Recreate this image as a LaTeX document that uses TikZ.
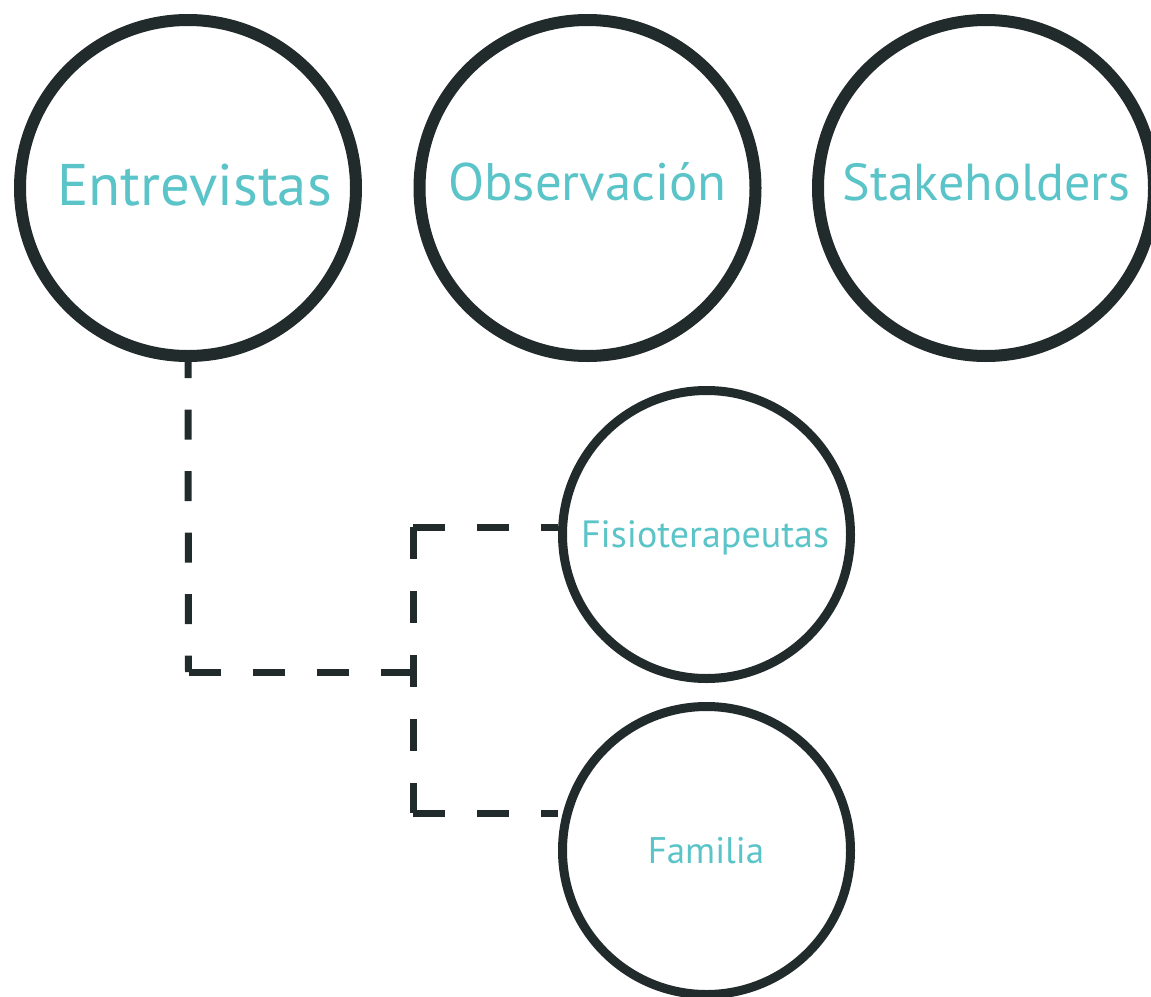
\documentclass[tikz,border=0pt]{standalone}
\usepackage{fontspec}
\setmainfont{PT Sans}
\definecolor{ink}{RGB}{34,43,43}
\definecolor{teal}{RGB}{91,196,200}
\tikzset{
  bigcircle/.style={circle, draw=ink, line width=12pt, minimum size=336pt, inner sep=0pt},
  smallcircle/.style={circle, draw=ink, line width=9pt, minimum size=288pt, inner sep=0pt},
  label/.style={text=teal, anchor=base, inner sep=0pt, font=\fontsize{#1}{#1}\selectfont},
  link/.style={draw=ink, line width=7pt, dash pattern=on 32pt off 32pt},
}
\begin{document}
\begin{tikzpicture}[x=1pt, y=-1pt]
\useasboundingbox (0,0) rectangle (1151,996);

% top row of methods
\node[bigcircle] (E) at (188,188) {};
\node[bigcircle] (O) at (587.5,188) {};
\node[bigcircle] (S) at (986,188) {};
\node[label=58.7] (Et) at (194.5,205) {Entrevistas};
\node[label=52.8] (Ot) at (587.5,200) {Observación};
\node[label=52] (St) at (986.5,200) {Stakeholders};

% interviewed groups
\node[smallcircle] (F) at (706.5,534.5) {};
\node[smallcircle] (M) at (706.5,850.5) {};
\node[label=38] (Ft) at (705,547) {Fisioterapeutas};
\node[label=37] (Mt) at (706,863) {Familia};

% corner points of the dashed bracket
\coordinate (c1) at (188.5,672);
\coordinate (c2) at (413,672);
\coordinate (c3) at (413,527);
\coordinate (c4) at (413,813);

\draw[link, dash pattern=on 30pt off 31.5pt, dash phase=14pt] (E.south) -- (c1);
\draw[link] (c1) -- (c2);
\draw[link] (c3) -- (c4);
\draw[link] (c3) -- (c3 -| F.west);
\draw[link] (c4) -- (c4 -| M.west);
\end{tikzpicture}
\end{document}
